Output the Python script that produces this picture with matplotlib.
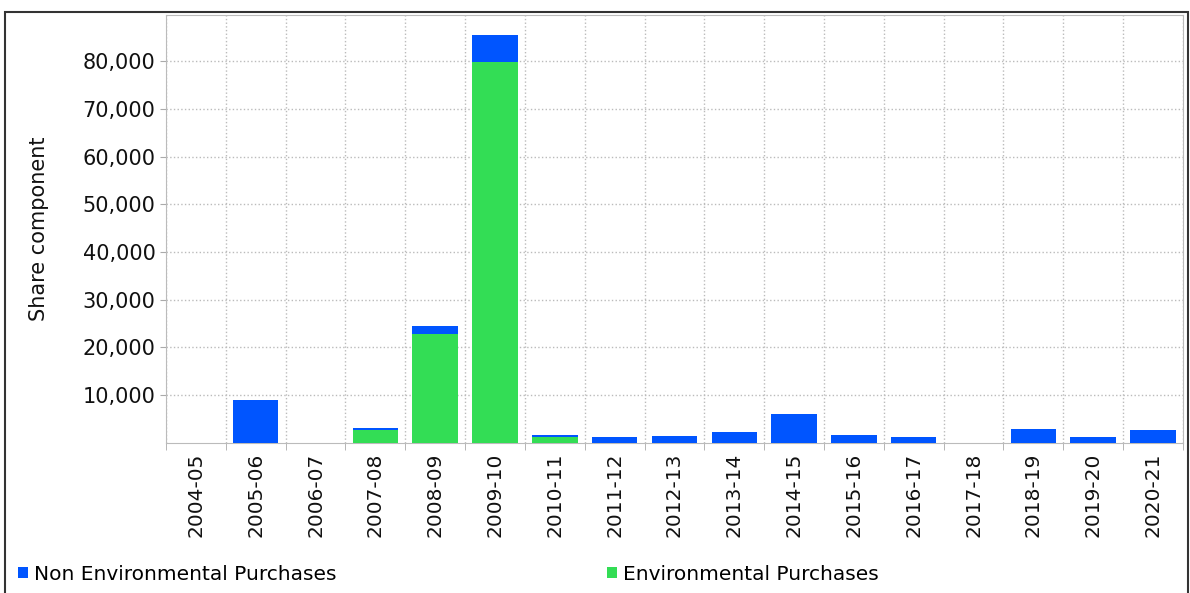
import numpy as np
import matplotlib.pyplot as plt
from matplotlib.patches import Patch, Rectangle
from matplotlib.ticker import FuncFormatter, FixedLocator

years = ['2004-05', '2005-06', '2006-07', '2007-08', '2008-09', '2009-10', '2010-11',
         '2011-12', '2012-13', '2013-14', '2014-15', '2015-16', '2016-17', '2017-18',
         '2018-19', '2019-20', '2020-21']
environmental = [0, 0, 0, 2700, 22800, 79800, 1100, 0, 0, 0, 0, 0, 0, 0, 0, 0, 0]
non_environmental = [0, 8950, 0, 300, 1700, 5700, 500, 1100, 1350, 2300, 6000,
                     1550, 1100, 0, 2950, 1100, 2750]

col_blue = '#0055ff'
col_green = '#33dd55'

plt.rcParams['font.family'] = ['DejaVu Sans']

fig = plt.figure(figsize=(11.9, 5.93), dpi=100)
ax = fig.add_axes([0.1395, 0.2535, 0.8545, 0.7212])

x = np.arange(len(years))
ax.bar(x, environmental, width=0.76, color=col_green, zorder=3)
ax.bar(x, non_environmental, width=0.76, bottom=environmental, color=col_blue, zorder=3)

ax.set_xlim(-0.5, len(years) - 0.5)
ax.set_ylim(0, 89700)
ax.set_yticks(np.arange(10000, 90000, 10000))
ax.yaxis.set_major_formatter(FuncFormatter(lambda v, p: f'{int(v):,}'))
ax.set_xticks(x)
ax.set_xticklabels(years, rotation=90, fontsize=14.5, color='#111111')
ax.xaxis.set_minor_locator(FixedLocator(np.arange(-0.5, len(years), 1)))
ax.tick_params(axis='x', which='major', length=0, pad=7)
ax.tick_params(axis='x', which='minor', length=5, color='#aaaaaa')
ax.tick_params(axis='y', labelsize=15, length=4, color='#aaaaaa', labelcolor='#111111')
ax.grid(axis='y', which='major', linestyle=':', color='#bbbbbb', linewidth=1)
ax.grid(axis='x', which='minor', linestyle=':', color='#bbbbbb', linewidth=1)
for s in ax.spines.values():
    s.set_color('#bbbbbb')
ax.set_ylabel('Share component', fontsize=15, color='#111111')
ax.yaxis.set_label_coords(-0.115, 0.5)

h1 = Patch(facecolor=col_blue)
h2 = Patch(facecolor=col_green)
fig.legend([h1], ['Non Environmental Purchases'], loc='lower left', bbox_to_anchor=(0.0, -0.015),
           frameon=False, fontsize=14.5, handlelength=0.5, handleheight=0.5, handletextpad=0.3)
fig.legend([h2], ['Environmental Purchases'], loc='lower left', bbox_to_anchor=(0.495, -0.015),
           frameon=False, fontsize=14.5, handlelength=0.5, handleheight=0.5, handletextpad=0.3)

fig.patches.append(Rectangle((5 / 1190, -0.02), 1183 / 1190, 1.01 - 6 / 593,
                             transform=fig.transFigure, fill=False, edgecolor='#333333', linewidth=1.5))

fig.savefig('out.png', dpi=100)
